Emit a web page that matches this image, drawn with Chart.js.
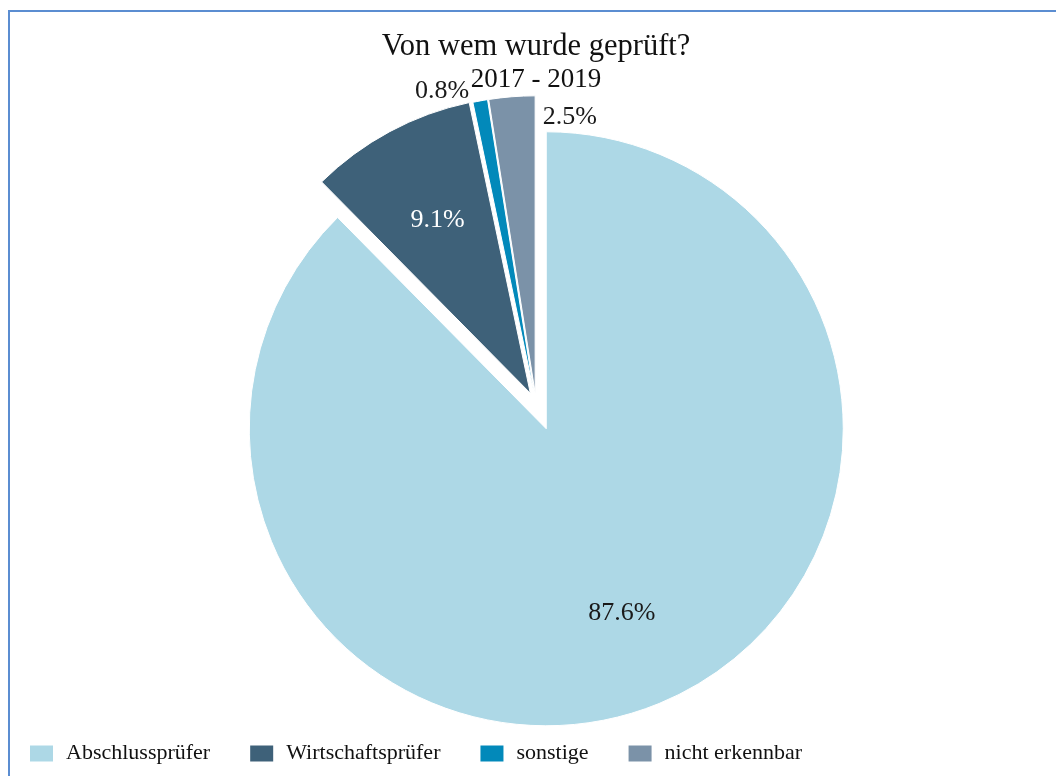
<!DOCTYPE html>
<html>
<head>
<meta charset="utf-8">
<title>Von wem wurde geprüft?</title>
<script src="https://cdn.jsdelivr.net/npm/chart.js@4/dist/chart.umd.min.js"></script>
<style>
  html, body { margin: 0; padding: 0; background: #fff; overflow: hidden; }
  #frame { position: absolute; left: 8px; top: 10px; width: 2000px; height: 2000px; border: 2px solid #5b8dd1; }
  #pie { position: absolute; left: -10px; top: 0; }
</style>
</head>
<body>
<div id="frame"></div>
<canvas id="pie" width="1092" height="776"></canvas>
<script>
// data
var categories = ['Abschlussprüfer', 'Wirtschaftsprüfer', 'sonstige', 'nicht erkennbar'];
var shares     = [87.6, 9.1, 0.8, 2.5];
var titleText    = 'Von wem wurde geprüft?';
var subtitleText = '2017 - 2019';

// styles
var sliceColors = ['#add8e6', '#3e6179', '#0289ba', '#7b92a8'];
var explodePx   = [27, 12, 11, 11];   // how far each slice is pulled out
var labelColors = ['#1a1a1a', '#ffffff', '#1a1a1a', '#1a1a1a'];
// inside labels: fraction of radius; outside labels: shift from slice's outer point
var labelPlace = [
  { inside: true, r: 0.67 },
  { inside: true, r: 0.66 },
  { inside: false, dx: -11, dy: -10, align: 'right' },
  { inside: false, dx: 31, dy: 20, align: 'left' }
];
var serif = '"Liberation Serif", "Times New Roman", serif';

// pulls slices out from the centre (like an exploded office pie)
var explodePlugin = {
  id: 'explode',
  beforeDatasetsDraw: function (chart) {
    var ca = chart.chartArea;
    var cx = (ca.left + ca.right) / 2;
    var cy = (ca.top + ca.bottom) / 2;
    chart.getDatasetMeta(0).data.forEach(function (arc, i) {
      var mid = (arc.startAngle + arc.endAngle) / 2;
      arc.x = cx + explodePx[i] * Math.cos(mid);
      arc.y = cy + explodePx[i] * Math.sin(mid);
    });
  }
};

// percentage labels
var labelPlugin = {
  id: 'sliceLabels',
  afterDatasetsDraw: function (chart) {
    var ctx = chart.ctx;
    var values = chart.data.datasets[0].data;
    ctx.save();
    ctx.font = '26px ' + serif;
    ctx.textBaseline = 'middle';
    chart.getDatasetMeta(0).data.forEach(function (arc, i) {
      var mid = (arc.startAngle + arc.endAngle) / 2;
      var p = labelPlace[i];
      var x, y;
      if (p.inside) {
        x = arc.x + arc.outerRadius * p.r * Math.cos(mid);
        y = arc.y + arc.outerRadius * p.r * Math.sin(mid);
        ctx.textAlign = 'center';
      } else {
        x = arc.x + arc.outerRadius * Math.cos(mid) + p.dx;
        y = arc.y + arc.outerRadius * Math.sin(mid) + p.dy;
        ctx.textAlign = p.align;
      }
      ctx.fillStyle = labelColors[i];
      ctx.fillText(values[i].toFixed(1) + '%', x, y);
    });
    ctx.restore();
  }
};

var baseLabels = Chart.overrides.doughnut.plugins.legend.labels.generateLabels;

var pieChart = new Chart(document.getElementById('pie').getContext('2d'), {
  type: 'pie',
  data: {
    labels: categories,
    datasets: [{
      data: shares,
      backgroundColor: sliceColors,
      borderColor: '#ffffff',
      borderWidth: 1,
      clip: false
    }]
  },
  options: {
    responsive: false,
    animation: false,
    events: [],
    radius: 297,
    layout: { padding: { top: 0, left: 0, right: 0, bottom: 1.5 } },
    plugins: {
      tooltip: { enabled: false },
      title: {
        display: true,
        text: titleText,
        color: '#111',
        font: { family: serif, size: 30.5, weight: 'normal', lineHeight: 1 },
        padding: { top: 31.7, bottom: 0 }
      },
      subtitle: {
        display: true,
        text: subtitleText,
        color: '#111',
        font: { family: serif, size: 27, weight: 'normal' },
        padding: { top: 1.6, bottom: 6.9 }
      },
      legend: {
        position: 'bottom',
        align: 'start',
        labels: {
          color: '#111',
          font: { family: serif, size: 22 },
          boxWidth: 27,
          boxHeight: 20,
          padding: 38,
          generateLabels: function (chart) {
            var items = baseLabels(chart);
            items.forEach(function (it) {
              it.lineWidth = 4;
              it.strokeStyle = '#ffffff';
            });
            return items;
          }
        }
      }
    }
  },
  plugins: [explodePlugin, labelPlugin]
});
</script>
</body>
</html>
